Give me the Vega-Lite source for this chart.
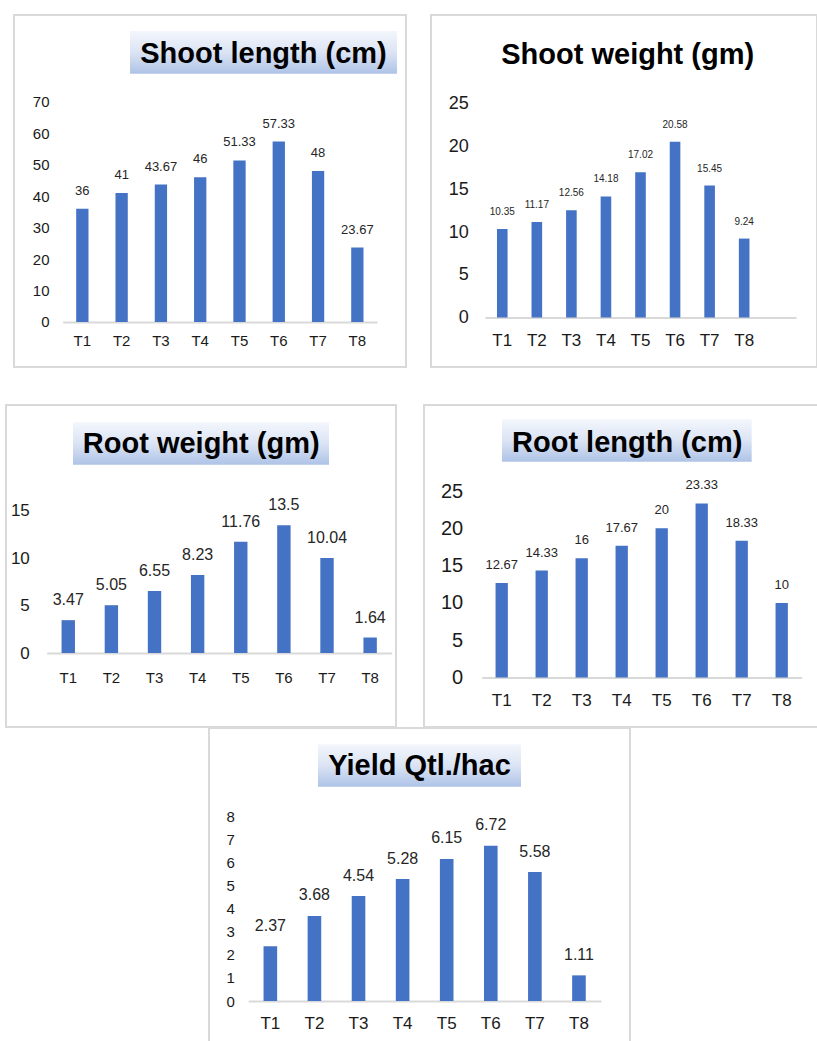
{
  "$schema": "https://vega.github.io/schema/vega-lite/v6.json",
  "background": "white",
  "padding": {"left": 5, "top": 14, "right": 0, "bottom": 0},
  "config": {
    "view": {"stroke": "#d9d9d9", "strokeWidth": 2},
    "font": "Liberation Sans"
  },
  "spacing": 36,
  "vconcat": [
    {
      "spacing": 0,
      "hconcat": [
        {"width": 7, "height": 1, "data": {"values": []}, "mark": "point", "view": {"stroke": null}},
        {
          "spacing": 23,
          "hconcat": [
            {
              "width": 392, "height": 352,
              "layer": [
                {
                  "data": {"values": [{"title": "Shoot length (cm)"}]},
                  "layer": [
                    {"mark": {"type": "rect", "color": {"gradient": "linear", "x1": 0, "y1": 0, "x2": 0, "y2": 1, "stops": [{"offset": 0, "color": "#f3f6fc"}, {"offset": 0.5, "color": "#dbe4f4"}, {"offset": 1, "color": "#aec3e7"}]}},
                     "encoding": {"x": {"datum": 29.59, "type": "quantitative", "scale": {"domain": [0, 100], "nice": false, "zero": false}, "axis": null}, "x2": {"datum": 97.7}, "y": {"datum": 95.45, "type": "quantitative", "scale": {"domain": [0, 100], "nice": false, "zero": false}, "axis": null}, "y2": {"datum": 83.32}}},
                    {"mark": {"type": "text", "font": "Liberation Sans", "fontSize": 29, "fontWeight": "bold", "align": "center", "baseline": "alphabetic", "color": "#000000"},
                     "encoding": {"x": {"datum": 63.65, "type": "quantitative", "scale": {"domain": [0, 100], "nice": false, "zero": false}, "axis": null}, "y": {"datum": 86.36, "type": "quantitative", "scale": {"domain": [0, 100], "nice": false, "zero": false}, "axis": null}, "text": {"field": "title"}}}
                  ]
                },
                {
                  "data": {"values": [
                    {"treatment": "T1", "value": 36}, {"treatment": "T2", "value": 41}, {"treatment": "T3", "value": 43.67}, {"treatment": "T4", "value": 46},
                    {"treatment": "T5", "value": 51.33}, {"treatment": "T6", "value": 57.33}, {"treatment": "T7", "value": 48}, {"treatment": "T8", "value": 23.67}
                  ]},
                  "encoding": {
                    "x": {"field": "treatment", "type": "nominal", "sort": null, "scale": {"range": [48.7, 363], "paddingInner": 0, "paddingOuter": 0},
                      "axis": {"orient": "bottom", "offset": -45, "title": null, "domain": true, "domainColor": "#d9d9d9", "domainWidth": 2, "ticks": false, "tickSize": 0, "labelPadding": 18, "labelBaseline": "middle", "labelAngle": 0, "labelFontSize": 15, "labelFont": "Liberation Sans", "labelColor": "#1a1a1a", "grid": false}},
                    "y": {"field": "value", "type": "quantitative", "scale": {"domain": [-14.3, 97.55], "nice": false, "zero": false},
                      "axis": {"orient": "left", "offset": -35, "title": null, "values": [0, 10, 20, 30, 40, 50, 60, 70], "format": "d", "domain": false, "ticks": false, "tickSize": 0, "grid": false, "labelPadding": 0, "labelAlign": "right", "labelBaseline": "middle", "labelFontSize": 15, "labelFont": "Liberation Sans", "labelColor": "#1a1a1a"}}
                  },
                  "layer": [
                    {"mark": {"type": "bar", "size": 12.3, "color": "#4472C4"}},
                    {"mark": {"type": "text", "baseline": "alphabetic", "dy": -14, "fontSize": 13, "font": "Liberation Sans", "color": "#262626"}, "encoding": {"text": {"field": "value", "type": "nominal"}}}
                  ]
                }
              ],
              "resolve": {"scale": {"x": "independent", "y": "independent"}}
            },
            {
              "width": 386, "height": 352,
              "layer": [
                {
                  "data": {"values": [{"title": "Shoot weight (gm)"}]},
                  "layer": [
                    {"mark": {"type": "text", "font": "Liberation Sans", "fontSize": 29, "fontWeight": "bold", "align": "center", "baseline": "alphabetic", "color": "#000000"},
                     "encoding": {"x": {"datum": 50.96, "type": "quantitative", "scale": {"domain": [0, 100], "nice": false, "zero": false}, "axis": null}, "y": {"datum": 86.0, "type": "quantitative", "scale": {"domain": [0, 100], "nice": false, "zero": false}, "axis": null}, "text": {"field": "title"}}}
                  ]
                },
                {
                  "data": {"values": [
                    {"treatment": "T1", "value": 10.35}, {"treatment": "T2", "value": 11.17}, {"treatment": "T3", "value": 12.56}, {"treatment": "T4", "value": 14.18},
                    {"treatment": "T5", "value": 17.02}, {"treatment": "T6", "value": 20.58}, {"treatment": "T7", "value": 15.45}, {"treatment": "T8", "value": 9.24}
                  ]},
                  "encoding": {
                    "x": {"field": "treatment", "type": "nominal", "sort": null, "scale": {"range": [54, 365], "paddingInner": 0, "paddingOuter": 0.5, "align": 0},
                      "axis": {"orient": "bottom", "offset": -49.5, "title": null, "domain": true, "domainColor": "#d9d9d9", "domainWidth": 2, "ticks": false, "tickSize": 0, "labelPadding": 22.5, "labelBaseline": "middle", "labelAngle": 0, "labelFontSize": 17, "labelFont": "Liberation Sans", "labelColor": "#1a1a1a", "grid": false}},
                    "y": {"field": "value", "type": "quantitative", "scale": {"domain": [-5.8, 35.42], "nice": false, "zero": false},
                      "axis": {"orient": "left", "offset": -37.3, "title": null, "values": [0, 5, 10, 15, 20, 25], "format": "d", "domain": false, "ticks": false, "tickSize": 0, "grid": false, "labelPadding": 0, "labelAlign": "right", "labelBaseline": "middle", "labelFontSize": 18, "labelFont": "Liberation Sans", "labelColor": "#1a1a1a"}}
                  },
                  "layer": [
                    {"mark": {"type": "bar", "size": 10.6, "color": "#4472C4"}},
                    {"mark": {"type": "text", "baseline": "alphabetic", "dy": -14, "fontSize": 10, "font": "Liberation Sans", "color": "#262626"}, "encoding": {"text": {"field": "value", "type": "nominal"}}}
                  ]
                }
              ],
              "resolve": {"scale": {"x": "independent", "y": "independent"}}
            }
          ]
        }
      ]
    },
    {
      "spacing": -2,
      "vconcat": [
        {
          "spacing": 26,
          "hconcat": [
            {
              "width": 390, "height": 322,
              "layer": [
                {
                  "data": {"values": [{"title": "Root weight (gm)"}]},
                  "layer": [
                    {"mark": {"type": "rect", "color": {"gradient": "linear", "x1": 0, "y1": 0, "x2": 0, "y2": 1, "stops": [{"offset": 0, "color": "#f3f6fc"}, {"offset": 0.5, "color": "#dbe4f4"}, {"offset": 1, "color": "#aec3e7"}]}},
                     "encoding": {"x": {"datum": 17.18, "type": "quantitative", "scale": {"domain": [0, 100], "nice": false, "zero": false}, "axis": null}, "x2": {"datum": 82.82}, "y": {"datum": 94.63, "type": "quantitative", "scale": {"domain": [0, 100], "nice": false, "zero": false}, "axis": null}, "y2": {"datum": 81.46}}},
                    {"mark": {"type": "text", "font": "Liberation Sans", "fontSize": 29, "fontWeight": "bold", "align": "center", "baseline": "alphabetic", "color": "#000000"},
                     "encoding": {"x": {"datum": 50.05, "type": "quantitative", "scale": {"domain": [0, 100], "nice": false, "zero": false}, "axis": null}, "y": {"datum": 85.0, "type": "quantitative", "scale": {"domain": [0, 100], "nice": false, "zero": false}, "axis": null}, "text": {"field": "title"}}}
                  ]
                },
                {
                  "data": {"values": [
                    {"treatment": "T1", "value": 3.47}, {"treatment": "T2", "value": 5.05}, {"treatment": "T3", "value": 6.55}, {"treatment": "T4", "value": 8.23},
                    {"treatment": "T5", "value": 11.76}, {"treatment": "T6", "value": 13.5}, {"treatment": "T7", "value": 10.04}, {"treatment": "T8", "value": 1.64}
                  ]},
                  "encoding": {
                    "x": {"field": "treatment", "type": "nominal", "sort": null, "scale": {"range": [40.7, 385.7], "paddingInner": 0, "paddingOuter": 0},
                      "axis": {"orient": "bottom", "offset": -74, "title": null, "domain": true, "domainColor": "#d9d9d9", "domainWidth": 2, "ticks": false, "tickSize": 0, "labelPadding": 24.3, "labelBaseline": "middle", "labelAngle": 0, "labelFontSize": 15, "labelFont": "Liberation Sans", "labelColor": "#1a1a1a", "grid": false}},
                    "y": {"field": "value", "type": "quantitative", "scale": {"domain": [-7.81, 26.19], "nice": false, "zero": false},
                      "axis": {"orient": "left", "offset": -23.3, "title": null, "values": [0, 5, 10, 15], "format": "d", "domain": false, "ticks": false, "tickSize": 0, "grid": false, "labelPadding": 0, "labelAlign": "right", "labelBaseline": "middle", "labelFontSize": 17, "labelFont": "Liberation Sans", "labelColor": "#1a1a1a"}}
                  },
                  "layer": [
                    {"mark": {"type": "bar", "size": 13.4, "color": "#4472C4"}},
                    {"mark": {"type": "text", "baseline": "alphabetic", "dy": -15, "fontSize": 16, "font": "Liberation Sans", "color": "#262626"}, "encoding": {"text": {"field": "value", "type": "nominal"}}}
                  ]
                }
              ],
              "resolve": {"scale": {"x": "independent", "y": "independent"}}
            },
            {
              "width": 399, "height": 322,
              "layer": [
                {
                  "data": {"values": [{"title": "Root length (cm)"}]},
                  "layer": [
                    {"mark": {"type": "rect", "color": {"gradient": "linear", "x1": 0, "y1": 0, "x2": 0, "y2": 1, "stops": [{"offset": 0, "color": "#f3f6fc"}, {"offset": 0.5, "color": "#dbe4f4"}, {"offset": 1, "color": "#aec3e7"}]}},
                     "encoding": {"x": {"datum": 19.55, "type": "quantitative", "scale": {"domain": [0, 100], "nice": false, "zero": false}, "axis": null}, "x2": {"datum": 82.13}, "y": {"datum": 95.56, "type": "quantitative", "scale": {"domain": [0, 100], "nice": false, "zero": false}, "axis": null}, "y2": {"datum": 82.39}}},
                    {"mark": {"type": "text", "font": "Liberation Sans", "fontSize": 29, "fontWeight": "bold", "align": "center", "baseline": "alphabetic", "color": "#000000"},
                     "encoding": {"x": {"datum": 50.93, "type": "quantitative", "scale": {"domain": [0, 100], "nice": false, "zero": false}, "axis": null}, "y": {"datum": 85.5, "type": "quantitative", "scale": {"domain": [0, 100], "nice": false, "zero": false}, "axis": null}, "text": {"field": "title"}}}
                  ]
                },
                {
                  "data": {"values": [
                    {"treatment": "T1", "value": 12.67}, {"treatment": "T2", "value": 14.33}, {"treatment": "T3", "value": 16}, {"treatment": "T4", "value": 17.67},
                    {"treatment": "T5", "value": 20}, {"treatment": "T6", "value": 23.33}, {"treatment": "T7", "value": 18.33}, {"treatment": "T8", "value": 10}
                  ]},
                  "encoding": {
                    "x": {"field": "treatment", "type": "nominal", "sort": null, "scale": {"range": [57.7, 377.7], "paddingInner": 0, "paddingOuter": 0},
                      "axis": {"orient": "bottom", "offset": -49.5, "title": null, "domain": true, "domainColor": "#d9d9d9", "domainWidth": 2, "ticks": false, "tickSize": 0, "labelPadding": 23.2, "labelBaseline": "middle", "labelAngle": 0, "labelFontSize": 17, "labelFont": "Liberation Sans", "labelColor": "#1a1a1a", "grid": false}},
                    "y": {"field": "value", "type": "quantitative", "scale": {"domain": [-6.64, 36.53], "nice": false, "zero": false},
                      "axis": {"orient": "left", "offset": -38.7, "title": null, "values": [0, 5, 10, 15, 20, 25], "format": "d", "domain": false, "ticks": false, "tickSize": 0, "grid": false, "labelPadding": 0, "labelAlign": "right", "labelBaseline": "middle", "labelFontSize": 20, "labelFont": "Liberation Sans", "labelColor": "#1a1a1a"}}
                  },
                  "layer": [
                    {"mark": {"type": "bar", "size": 12.3, "color": "#4472C4"}},
                    {"mark": {"type": "text", "baseline": "alphabetic", "dy": -14, "fontSize": 13, "font": "Liberation Sans", "color": "#262626"}, "encoding": {"text": {"field": "value", "type": "nominal"}}}
                  ]
                }
              ],
              "resolve": {"scale": {"x": "independent", "y": "independent"}}
            }
          ]
        },
        {
          "spacing": 0,
          "hconcat": [
            {"width": 202, "height": 1, "data": {"values": []}, "mark": "point", "view": {"stroke": null}},
            {
              "width": 421, "height": 318,
              "layer": [
                {
                  "data": {"values": [{"title": "Yield Qtl./hac"}]},
                  "layer": [
                    {"mark": {"type": "rect", "color": {"gradient": "linear", "x1": 0, "y1": 0, "x2": 0, "y2": 1, "stops": [{"offset": 0, "color": "#f3f6fc"}, {"offset": 0.5, "color": "#dbe4f4"}, {"offset": 1, "color": "#aec3e7"}]}},
                     "encoding": {"x": {"datum": 25.89, "type": "quantitative", "scale": {"domain": [0, 100], "nice": false, "zero": false}, "axis": null}, "x2": {"datum": 74.11}, "y": {"datum": 94.87, "type": "quantitative", "scale": {"domain": [0, 100], "nice": false, "zero": false}, "axis": null}, "y2": {"datum": 81.54}}},
                    {"mark": {"type": "text", "font": "Liberation Sans", "fontSize": 29, "fontWeight": "bold", "align": "center", "baseline": "alphabetic", "color": "#000000"},
                     "encoding": {"x": {"datum": 50.0, "type": "quantitative", "scale": {"domain": [0, 100], "nice": false, "zero": false}, "axis": null}, "y": {"datum": 85.22, "type": "quantitative", "scale": {"domain": [0, 100], "nice": false, "zero": false}, "axis": null}, "text": {"field": "title"}}}
                  ]
                },
                {
                  "data": {"values": [
                    {"treatment": "T1", "value": 2.37}, {"treatment": "T2", "value": 3.68}, {"treatment": "T3", "value": 4.54}, {"treatment": "T4", "value": 5.28},
                    {"treatment": "T5", "value": 6.15}, {"treatment": "T6", "value": 6.72}, {"treatment": "T7", "value": 5.58}, {"treatment": "T8", "value": 1.11}
                  ]},
                  "encoding": {
                    "x": {"field": "treatment", "type": "nominal", "sort": null, "scale": {"range": [39.3, 392], "paddingInner": 0, "paddingOuter": 0},
                      "axis": {"orient": "bottom", "offset": -45, "title": null, "domain": true, "domainColor": "#d9d9d9", "domainWidth": 2, "ticks": false, "tickSize": 0, "labelPadding": 22.7, "labelBaseline": "middle", "labelAngle": 0, "labelFontSize": 17, "labelFont": "Liberation Sans", "labelColor": "#1a1a1a", "grid": false}},
                    "y": {"field": "value", "type": "quantitative", "scale": {"domain": [-1.948, 11.818], "nice": false, "zero": false},
                      "axis": {"orient": "left", "offset": -25.3, "title": null, "values": [0, 1, 2, 3, 4, 5, 6, 7, 8], "format": "d", "domain": false, "ticks": false, "tickSize": 0, "grid": false, "labelPadding": 0, "labelAlign": "right", "labelBaseline": "middle", "labelFontSize": 15, "labelFont": "Liberation Sans", "labelColor": "#1a1a1a"}}
                  },
                  "layer": [
                    {"mark": {"type": "bar", "size": 13.6, "color": "#4472C4"}},
                    {"mark": {"type": "text", "baseline": "alphabetic", "dy": -15.5, "fontSize": 16, "font": "Liberation Sans", "color": "#262626"}, "encoding": {"text": {"field": "value", "type": "nominal"}}}
                  ]
                }
              ],
              "resolve": {"scale": {"x": "independent", "y": "independent"}}
            }
          ]
        }
      ]
    }
  ]
}
